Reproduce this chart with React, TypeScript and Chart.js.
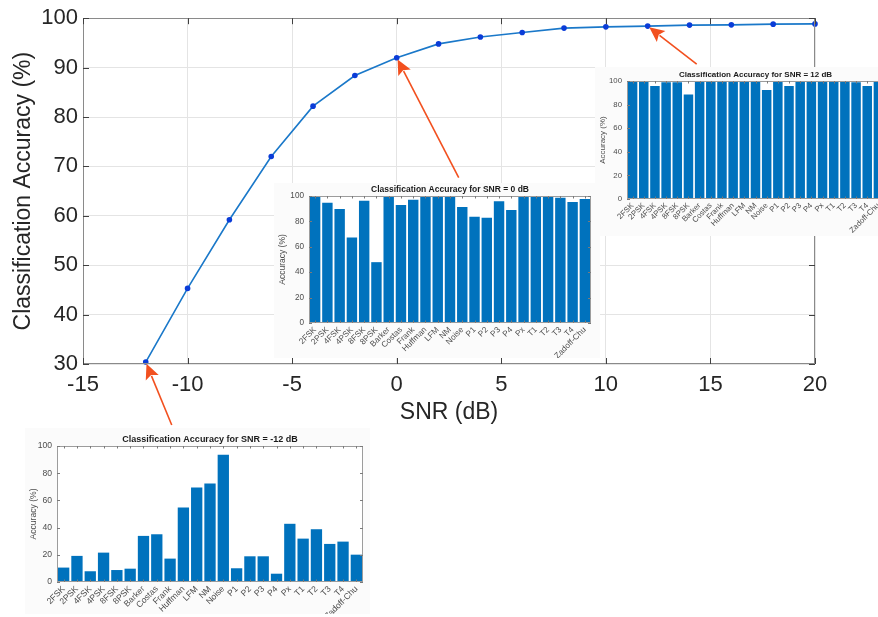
import React, { useEffect, useRef } from "react";
import { Chart, registerables } from "chart.js";

Chart.register(...registerables);

const FAMILY = "'Liberation Sans', Arial, Helvetica, sans-serif";
Chart.defaults.font.family = FAMILY;

// ---------- Main curve data ----------
const snrValues = [-12, -10, -8, -6, -4, -2, 0, 2, 4, 6, 8, 10, 12, 14, 16, 18, 20];
const overallAccuracy = [30.4, 45.3, 59.2, 72.0, 82.2, 88.4, 92.0, 94.8, 96.2, 97.1, 98.0, 98.25, 98.4, 98.6, 98.65, 98.8, 98.85];
const xTickMin = -15;
const xTickMax = 20;
const xTickStep = 5;
const yTickMin = 30;
const yTickMax = 100;
const yTickStep = 10;

// ---------- Per-class accuracy (insets) ----------
const signalClasses = [
  "2FSK", "2PSK", "4FSK", "4PSK", "8FSK", "8PSK", "Barker", "Costas", "Frank",
  "Huffman", "LFM", "NM", "Noise", "P1", "P2", "P3", "P4", "Px", "T1", "T2", "T3", "T4", "Zadoff-Chu",
];
const accSnrMinus12 = [10.6, 19.2, 7.9, 21.6, 8.8, 9.8, 33.9, 35.1, 17.2, 54.8, 69.5, 72.5, 93.6, 10.1, 18.9, 18.9, 6.1, 42.8, 31.9, 38.8, 28.0, 29.7, 20.1];
const accSnr0 = [99.5, 94.7, 89.7, 67.4, 96.3, 47.9, 100, 92.9, 97.1, 100, 100, 100, 91.3, 83.7, 82.9, 95.8, 88.9, 100, 99.5, 100, 98.7, 95.3, 97.6];
const accSnr12 = [99.7, 100, 95.8, 98.9, 98.9, 88.5, 100, 100, 100, 100, 100, 100, 92.4, 100, 95.8, 100, 100, 100, 100, 100, 98.9, 95.8, 100];

// arrows point at these SNR values of the main curve
const arrowSnr = [-12, 0, 12];

const W = 878;
const H = 617;
const ARROW_COLOR = "#f2501f";
const BAR_COLOR = "#0072BD";

type Rect = { left: number; top: number; right: number; bottom: number };

function MainChart() {
  const ref = useRef<HTMLCanvasElement>(null);
  useEffect(() => {
    const canvas = ref.current!;
    const plot: Rect = { left: 83, top: 17, right: 815, bottom: 364 };
    const tailOffsets: [number, number][] = [
      [26, 63],
      [62, 120],
      [49, 38],
    ];

    const framePlugin = {
      id: "mainFrame",
      afterDraw(chart: any) {
        const { ctx, chartArea: a } = chart;
        const xs = chart.scales.x;
        const ys = chart.scales.y;
        ctx.save();
        ctx.strokeStyle = "#8a8a8a";
        ctx.lineWidth = 1;
        ctx.strokeRect(Math.round(a.left) + 0.5, Math.round(a.top) + 0.5, Math.round(a.width) - 1, Math.round(a.height) - 1);
        ctx.strokeStyle = "#404040";
        ctx.beginPath();
        xs.ticks.forEach((t: any) => {
          const x = Math.round(xs.getPixelForValue(t.value)) + 0.5;
          ctx.moveTo(x, a.bottom);
          ctx.lineTo(x, a.bottom - 6);
          ctx.moveTo(x, a.top);
          ctx.lineTo(x, a.top + 6);
        });
        ys.ticks.forEach((t: any) => {
          const y = Math.round(ys.getPixelForValue(t.value)) + 0.5;
          ctx.moveTo(a.left, y);
          ctx.lineTo(a.left + 6, y);
          ctx.moveTo(a.right, y);
          ctx.lineTo(a.right - 6, y);
        });
        ctx.stroke();

        // annotation arrows
        ctx.strokeStyle = ARROW_COLOR;
        ctx.fillStyle = ARROW_COLOR;
        ctx.lineWidth = 1.6;
        arrowSnr.forEach((snr, i) => {
          const idx = snrValues.indexOf(snr);
          const px = xs.getPixelForValue(snr);
          const py = ys.getPixelForValue(overallAccuracy[idx]);
          const [dx, dy] = tailOffsets[i];
          const len = Math.hypot(dx, dy);
          const ux = dx / len;
          const uy = dy / len;
          const tipX = px + ux * 2;
          const tipY = py + uy * 2;
          const headLen = 15;
          const headW = 7;
          const baseX = tipX + ux * headLen;
          const baseY = tipY + uy * headLen;
          ctx.beginPath();
          ctx.moveTo(px + dx, py + dy);
          ctx.lineTo(baseX - ux * 2, baseY - uy * 2);
          ctx.stroke();
          ctx.beginPath();
          ctx.moveTo(tipX, tipY);
          ctx.lineTo(baseX - uy * headW, baseY + ux * headW);
          ctx.lineTo(baseX - ux * 3, baseY - uy * 3);
          ctx.lineTo(baseX + uy * headW, baseY - ux * headW);
          ctx.closePath();
          ctx.fill();
        });
        ctx.restore();
      },
    };

    const chart = new Chart(canvas, {
      type: "line",
      data: {
        datasets: [
          {
            data: snrValues.map((x, i) => ({ x, y: overallAccuracy[i] })),
            borderColor: "#1a78c9",
            borderWidth: 1.6,
            pointRadius: 2.8,
            pointBackgroundColor: "#0a3cd8",
            pointBorderColor: "#0a3cd8",
            pointBorderWidth: 0,
            tension: 0,
            clip: false as any,
          },
        ],
      },
      options: {
        responsive: false,
        animation: false,
        layout: { padding: { left: 0, top: plot.top, right: W - plot.right, bottom: 0 } },
        plugins: { legend: { display: false }, tooltip: { enabled: false } },
        scales: {
          x: {
            type: "linear",
            min: xTickMin,
            max: xTickMax,
            ticks: { stepSize: xTickStep, color: "#262626", font: { size: 22 }, padding: 8 },
            grid: { color: "#e4e4e4", drawTicks: false },
            border: { display: false },
            title: { display: true, text: "SNR (dB)", color: "#262626", font: { size: 23 }, padding: { top: 4, bottom: 191 } },
            afterFit: (s: any) => {
              s.height = H - plot.bottom;
            },
          },
          y: {
            type: "linear",
            min: yTickMin,
            max: yTickMax,
            ticks: { stepSize: yTickStep, color: "#262626", font: { size: 22 }, padding: 5 },
            grid: { color: "#e4e4e4", drawTicks: false },
            border: { display: false },
            title: { display: true, text: "Classification Accuracy (%)", color: "#262626", font: { size: 23 }, padding: { top: 10, bottom: 0 } },
            afterFit: (s: any) => {
              s.width = plot.left;
            },
          },
        },
      } as any,
      plugins: [framePlugin],
    });
    return () => chart.destroy();
  }, []);
  return <canvas ref={ref} width={W} height={H} style={{ position: "absolute", left: 0, top: 0, width: W, height: H }} />;
}

type InsetProps = {
  title: string;
  values: number[];
  panel: Rect;
  plot: Rect;
  titleSize: number;
  tickSize: number;
  yTitleSize: number;
  yTitlePad: number;
};

function InsetBarChart(p: InsetProps) {
  const ref = useRef<HTMLCanvasElement>(null);
  const w = p.panel.right - p.panel.left;
  const h = p.panel.bottom - p.panel.top;
  useEffect(() => {
    const canvas = ref.current!;
    const framePlugin = {
      id: "insetFrame",
      beforeDraw(chart: any) {
        const { ctx, chartArea: a } = chart;
        ctx.save();
        ctx.fillStyle = "#ffffff";
        ctx.fillRect(a.left, a.top, a.width, a.height);
        ctx.restore();
      },
      afterDraw(chart: any) {
        const { ctx, chartArea: a } = chart;
        const xs = chart.scales.x;
        const ys = chart.scales.y;
        ctx.save();
        ctx.strokeStyle = "#9c9c9c";
        ctx.lineWidth = 1;
        ctx.strokeRect(Math.round(a.left) + 0.5, Math.round(a.top) + 0.5, Math.round(a.width) - 1, Math.round(a.height) - 1);
        ctx.strokeStyle = "#7a7a7a";
        ctx.beginPath();
        xs.ticks.forEach((_t: any, i: number) => {
          const x = Math.round(xs.getPixelForTick(i)) + 0.5;
          ctx.moveTo(x, a.bottom);
          ctx.lineTo(x, a.bottom - 2.5);
          ctx.moveTo(x, a.top);
          ctx.lineTo(x, a.top + 2.5);
        });
        ys.ticks.forEach((t: any) => {
          const y = Math.round(ys.getPixelForValue(t.value)) + 0.5;
          ctx.moveTo(a.left, y);
          ctx.lineTo(a.left + 3, y);
          ctx.moveTo(a.right, y);
          ctx.lineTo(a.right - 3, y);
        });
        ctx.stroke();
        ctx.fillStyle = "#1a1a1a";
        ctx.font = `bold ${p.titleSize}px ${FAMILY}`;
        ctx.textAlign = "center";
        ctx.textBaseline = "middle";
        ctx.fillText(p.title, (a.left + a.right) / 2, a.top - 6.5);
        ctx.restore();
      },
    };
    const chart = new Chart(canvas, {
      type: "bar",
      data: {
        labels: signalClasses,
        datasets: [
          {
            data: p.values,
            backgroundColor: BAR_COLOR,
            borderWidth: 0,
            barPercentage: 0.85,
            categoryPercentage: 1,
          },
        ],
      },
      options: {
        responsive: false,
        animation: false,
        layout: {
          padding: { left: 0, top: p.plot.top - p.panel.top, right: p.panel.right - p.plot.right, bottom: 0 },
        },
        plugins: { legend: { display: false }, tooltip: { enabled: false } },
        scales: {
          x: {
            type: "category",
            grid: { display: false, drawTicks: false },
            border: { display: false },
            ticks: {
              autoSkip: false,
              minRotation: 45,
              maxRotation: 45,
              color: "#4d4d4d",
              font: { size: p.tickSize },
              padding: 2,
            },
            afterFit: (s: any) => {
              s.height = p.panel.bottom - p.plot.bottom;
            },
          },
          y: {
            min: 0,
            max: 100,
            grid: { display: false, drawTicks: false },
            border: { display: false },
            ticks: { stepSize: 20, color: "#4d4d4d", font: { size: p.tickSize }, padding: 5 },
            title: {
              display: true,
              text: "Accuracy (%)",
              color: "#4d4d4d",
              font: { size: p.yTitleSize },
              padding: { top: p.yTitlePad, bottom: 0 },
            },
            afterFit: (s: any) => {
              s.width = p.plot.left - p.panel.left;
            },
          },
        },
      } as any,
      plugins: [framePlugin],
    });
    return () => chart.destroy();
  }, []);
  return (
    <canvas
      ref={ref}
      width={w}
      height={h}
      style={{ position: "absolute", left: p.panel.left, top: p.panel.top, width: w, height: h, background: "#fbfbfb" }}
    />
  );
}

export default function App() {
  return (
    <div style={{ position: "absolute", left: 0, top: 0, width: W, height: H, overflow: "hidden", background: "#ffffff" }}>
      <MainChart />
      <InsetBarChart
        title="Classification Accuracy for SNR = 0 dB"
        values={accSnr0}
        panel={{ left: 274, top: 183, right: 600, bottom: 358 }}
        plot={{ left: 309, top: 196, right: 591, bottom: 323 }}
        titleSize={8.5}
        tickSize={8.2}
        yTitleSize={8.5}
        yTitlePad={4}
      />
      <InsetBarChart
        title="Classification Accuracy for SNR = 12 dB"
        values={accSnr12}
        panel={{ left: 595, top: 67, right: 897, bottom: 236 }}
        plot={{ left: 627, top: 81, right: 884, bottom: 199 }}
        titleSize={8}
        tickSize={7.8}
        yTitleSize={8}
        yTitlePad={3}
      />
      <InsetBarChart
        title="Classification Accuracy for SNR = -12 dB"
        values={accSnrMinus12}
        panel={{ left: 25, top: 428, right: 370, bottom: 614 }}
        plot={{ left: 57, top: 446, right: 363, bottom: 582 }}
        titleSize={9}
        tickSize={8.6}
        yTitleSize={8.6}
        yTitlePad={3}
      />
    </div>
  );
}
